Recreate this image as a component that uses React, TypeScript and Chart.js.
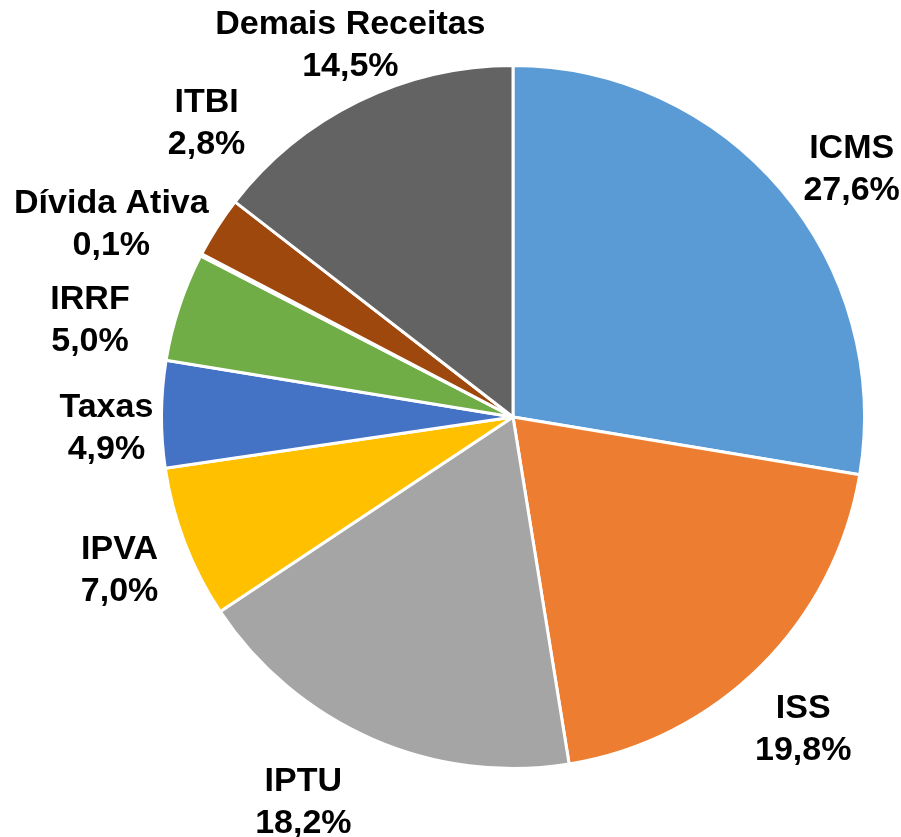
import React, { useEffect, useRef } from "react";
import { Chart, registerables } from "chart.js";

Chart.register(...registerables);

const categories = [
  "ICMS",
  "ISS",
  "IPTU",
  "IPVA",
  "Taxas",
  "IRRF",
  "Dívida Ativa",
  "ITBI",
  "Demais Receitas",
];
const shares = [27.6, 19.8, 18.2, 7.0, 4.9, 5.0, 0.1, 2.8, 14.5];
const sliceColors = [
  "#5B9BD5",
  "#ED7D31",
  "#A5A5A5",
  "#FFC000",
  "#4472C4",
  "#70AD47",
  "#264478",
  "#9E480E",
  "#636363",
];

// label placement: angular nudge (deg) from slice middle, distance in radii
const labelNudgeDeg = [3.8, 1.8, 5.1, 0, -1.7, -5.1, -1.6, 11.3, 2.6];
const labelDist = [1.198, 1.209, 1.242, 1.199, 1.157, 1.236, 1.27, 1.212, 1.159];

const fmt = (v: number) => v.toFixed(1).replace(".", ",") + "%";

const labelPlugin = {
  id: "outerLabels",
  afterDatasetsDraw(chart: any) {
    const ctx = chart.ctx;
    const meta = chart.getDatasetMeta(0);
    ctx.save();
    ctx.font = "bold 34px 'Liberation Sans', Arial, sans-serif";
    ctx.fillStyle = "#000000";
    ctx.textAlign = "center";
    ctx.textBaseline = "alphabetic";
    meta.data.forEach((arc: any, i: number) => {
      const mid = (arc.startAngle + arc.endAngle) / 2 + (labelNudgeDeg[i] * Math.PI) / 180;
      const r = arc.outerRadius * labelDist[i];
      const x = arc.x + Math.cos(mid) * r;
      const y = arc.y + Math.sin(mid) * r;
      ctx.fillText(categories[i], x, y - 21 + 12);
      ctx.fillText(fmt(shares[i]), x, y + 21 + 12);
    });
    ctx.restore();
  },
};

export default function App() {
  const ref = useRef<HTMLCanvasElement>(null);
  useEffect(() => {
    if (!ref.current) return;
    const chart = new Chart(ref.current, {
      type: "pie",
      data: {
        labels: categories,
        datasets: [
          {
            data: shares,
            backgroundColor: sliceColors,
            borderColor: "#ffffff",
            borderWidth: 3,
          },
        ],
      },
      options: {
        responsive: false,
        animation: false,
        layout: { padding: { left: 160, right: 35, top: 64, bottom: 67 } },
        plugins: {
          legend: { display: false },
          tooltip: { enabled: false },
        },
      },
      plugins: [labelPlugin],
    });
    return () => chart.destroy();
  }, []);
  return (
    <div style={{ position: "fixed", left: 0, top: 0, width: 901, height: 837, background: "#fff" }}>
      <canvas ref={ref} width={901} height={837} style={{ width: 901, height: 837 }} />
    </div>
  );
}
